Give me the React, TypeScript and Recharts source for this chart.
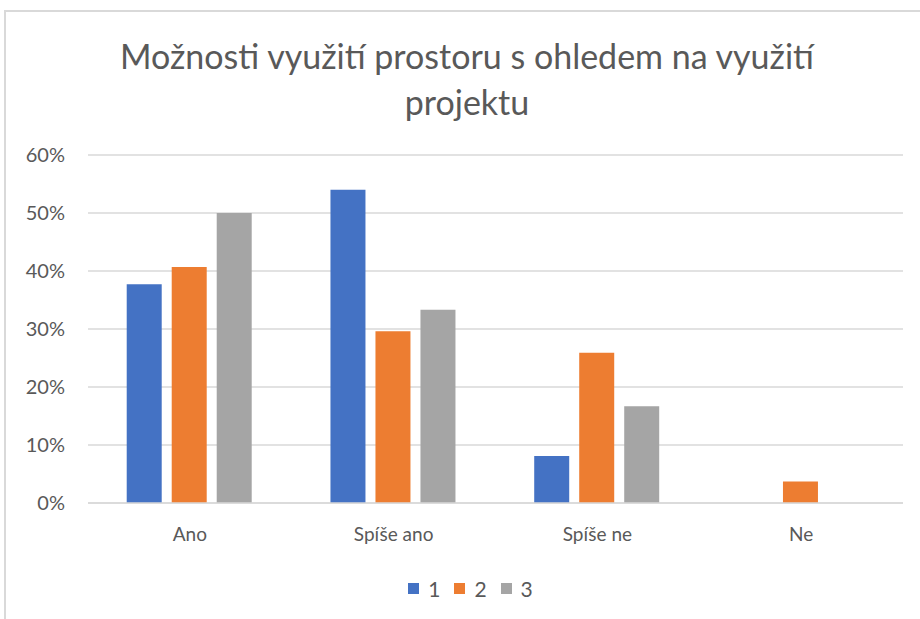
import React from 'react';
import { BarChart, Bar, XAxis, YAxis, CartesianGrid, Legend } from 'recharts';

const categories = ['Ano', 'Spíše ano', 'Spíše ne', 'Ne'];
const series1 = [0.377, 0.54, 0.081, 0];
const series2 = [0.407, 0.296, 0.259, 0.037];
const series3 = [0.5, 0.333, 0.167, 0];
const yTicks = [0, 0.1, 0.2, 0.3, 0.4, 0.5, 0.6];

const seriesNames = ['1', '2', '3'];
const seriesColors = ['#4472C4', '#ED7D31', '#A5A5A5'];

const data = categories.map((name, i) => ({
  name,
  '1': series1[i],
  '2': series2[i],
  '3': series3[i],
}));

const FONT = 'Lato, "Open Sans", sans-serif';
const TEXT = '#595959';

// legend drawn from the library payload, spaced like the original
const renderLegend = (props: any) => (
  <div
    style={{
      display: 'flex',
      justifyContent: 'center',
      alignItems: 'center',
      paddingLeft: 30,
      paddingTop: 3,
      fontFamily: FONT,
    }}
  >
    {(props.payload || []).map((entry: any, i: number) => (
      <div
        key={i}
        style={{ display: 'flex', alignItems: 'center', marginRight: i < 2 ? 14 : 0 }}
      >
        <span
          style={{ width: 11, height: 11, background: entry.color, display: 'inline-block', marginRight: 9 }}
        />
        <span style={{ color: TEXT, fontSize: 21 }}>{entry.value}</span>
      </div>
    ))}
  </div>
);

export default function App() {
  return (
    <div
      style={{
        position: 'absolute',
        left: 0,
        top: 0,
        width: 920,
        height: 619,
        overflow: 'hidden',
        background: '#fff',
        fontFamily: FONT,
      }}
    >
      <div
        style={{
          position: 'absolute',
          left: 4,
          top: 10,
          width: 960,
          height: 700,
          border: '2px solid #d9d9d9',
        }}
      />
      <div
        style={{
          position: 'absolute',
          left: 0,
          top: 33,
          width: 934,
          textAlign: 'center',
          color: TEXT,
          fontSize: 34,
          lineHeight: '46px',
        }}
      >
        Možnosti využití prostoru s ohledem na využití
        <br />
        projektu
      </div>
      <div style={{ position: 'absolute', left: 0, top: 0 }}>
        <BarChart
          width={920}
          height={619}
          data={data}
          margin={{ top: 155, right: 17, left: 8, bottom: 16 }}
          barCategoryGap="19%"
          barGap={10}
        >
          <CartesianGrid vertical={false} stroke="#d9d9d9" strokeWidth={1.5} />
          <XAxis
            dataKey="name"
            height={70}
            tickSize={0}
            tickMargin={25}
            stroke="#d9d9d9"
            strokeWidth={1.5}
            tick={{ fill: TEXT, fontSize: 19, fontFamily: FONT }}
          />
          <YAxis
            width={80}
            domain={[0, 0.6]}
            ticks={yTicks}
            axisLine={false}
            tickLine={false}
            tickSize={0}
            tickMargin={23}
            tickFormatter={(v) => `${Math.round(v * 100)}%`}
            tick={{ fill: TEXT, fontSize: 20, fontFamily: FONT }}
          />
          <Legend verticalAlign="bottom" height={30} content={renderLegend} />
          {seriesNames.map((s, i) => (
            <Bar
              key={s}
              dataKey={s}
              name={s}
              fill={seriesColors[i]}
              isAnimationActive={false}
            />
          ))}
        </BarChart>
      </div>
    </div>
  );
}
